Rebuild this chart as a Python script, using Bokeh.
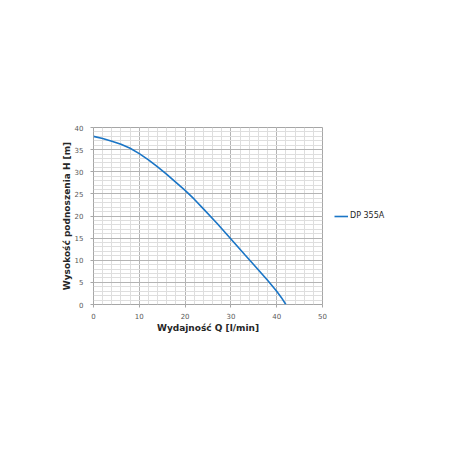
from bokeh.plotting import figure
from bokeh.models import Range1d, SingleIntervalTicker, Legend, LegendItem
from bokeh.embed import file_html
from bokeh.resources import INLINE

q = [0, 2, 4, 6, 8, 10, 12, 14, 16, 18, 20, 22, 24, 27, 30, 33, 35, 38, 40, 41, 42]
h = [38, 37.5, 36.9, 36.2, 35.3, 34.1, 32.7, 31.1, 29.4, 27.6, 25.8, 23.8, 21.6, 18.3, 14.8, 11.3, 9.0, 5.5, 3.0, 1.6, 0]
series_name = "DP 355A"
x_label = "Wydajność Q [l/min]"
y_label = "Wysokość podnoszenia H [m]"

FONT = "DejaVu Sans"

p = figure(frame_width=229, frame_height=177, output_backend="svg", toolbar_location=None,
           x_range=Range1d(0, 50), y_range=Range1d(0, 40),
           min_border_left=93, min_border_right=10, min_border_top=127, min_border_bottom=60)
p.outline_line_color = "#a6a6a6"
p.outline_line_width = 1
p.background_fill_color = "white"
p.border_fill_color = "white"

p.xaxis.ticker = SingleIntervalTicker(interval=10, num_minor_ticks=5)
p.yaxis.ticker = SingleIntervalTicker(interval=5, num_minor_ticks=5)
p.xgrid.grid_line_color = "#b4b4b4"
p.ygrid.grid_line_color = "#b4b4b4"
p.xgrid.minor_grid_line_color = "#dedede"
p.ygrid.minor_grid_line_color = "#dedede"

for ax in (p.xaxis, p.yaxis):
    ax.axis_line_color = None
    ax.major_tick_line_color = "#a6a6a6"
    ax.major_tick_out = 3
    ax.major_tick_in = 0
    ax.minor_tick_line_color = None
    ax.major_label_text_font = FONT
    ax.major_label_text_font_size = "7px"
    ax.major_label_text_color = "#595959"
    ax.axis_label_text_font = FONT
    ax.axis_label_text_font_size = "9px"
    ax.axis_label_text_font_style = "bold"
    ax.axis_label_text_color = "#262626"

p.xaxis.axis_label = x_label
p.yaxis.axis_label = y_label
p.xaxis.major_label_standoff = 4
p.yaxis.major_label_standoff = 6
p.xaxis.axis_label_standoff = 1
p.yaxis.axis_label_standoff = 0

r = p.line(q, h, line_color="#1a75c6", line_width=1.6)

legend = Legend(items=[LegendItem(label=series_name, renderers=[r])],
                location="left", background_fill_alpha=0, border_line_color=None,
                label_text_font=FONT, label_text_font_size="8px", label_text_color="#262626",
                glyph_width=14, glyph_height=10, label_standoff=2, padding=0, margin=12)
p.add_layout(legend, "right")

open("out.html", "w").write(file_html(p, INLINE))
